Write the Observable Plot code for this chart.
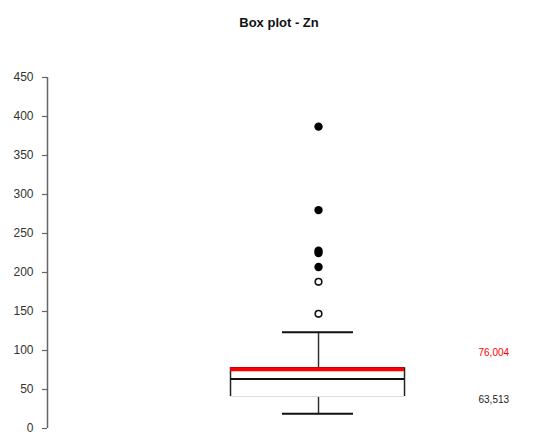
<!DOCTYPE html>
<html>
<head>
<meta charset="utf-8">
<script src="https://cdn.jsdelivr.net/npm/d3@7"></script>
<script src="https://cdn.jsdelivr.net/npm/@observablehq/plot@0.6"></script>
<style>
  html, body { margin: 0; padding: 0; background: #fff; }
  #wrap { position: relative; width: 534px; height: 437px; }
  #title { position: absolute; top: 15px; left: 279px; transform: translateX(-50%);
           font: bold 13px "Liberation Sans", Arial, sans-serif; color: #111; white-space: nowrap; }
</style>
</head>
<body>
<div id="wrap">
  <div id="title">Box plot - Zn</div>
</div>
<script>
// ---- data ----
const title = "Box plot - Zn";
const yTicks = [0, 50, 100, 150, 200, 250, 300, 350, 400, 450];
const lowerWhisker = 19;
const q1 = 41;
const median = 63.513;
const q3 = 78;
const upperWhisker = 123.5;
const mean = 76.004;
const mildOutliers = [147, 188];                 // open circles
const extremeOutliers = [207, 225, 228, 280, 387]; // filled circles

// ---- layout (fractions of plot width) ----
const cx = 0.5565, bx1 = 0.3758, bx2 = 0.7331, cap1 = 0.4825, cap2 = 0.6283, labelX = 0.885;
const fmt = v => d3.format(".3f")(v).replace(".", ",");

const chart = Plot.plot({
  width: 534,
  height: 437,
  marginLeft: 47,
  marginRight: 0,
  marginTop: 77,
  marginBottom: 9,
  style: { fontFamily: '"Liberation Sans", Arial, sans-serif', background: "#fff" },
  x: { domain: [0, 1], axis: null },
  y: { domain: [0, 450] },
  marks: [
    Plot.axisY({ ticks: yTicks, tickSize: 5, tickPadding: 9, fontSize: 12, stroke: "#666", color: "#333", strokeWidth: 1.2, label: null }),
    Plot.ruleX([0], { y1: 0, y2: 450, stroke: "#666", strokeWidth: 1.5 }),
    // whiskers
    Plot.ruleX([cx], { y1: q3, y2: upperWhisker, stroke: "#333", strokeWidth: 1.5 }),
    Plot.ruleX([cx], { y1: lowerWhisker, y2: q1, stroke: "#333", strokeWidth: 1.5 }),
    Plot.ruleY([upperWhisker, lowerWhisker], { x1: cap1, x2: cap2, stroke: "#111", strokeWidth: 2 }),
    // box
    Plot.rectY([0], { x1: bx1, x2: bx2, y1: q1, y2: q3, fill: "#fff" }),
    Plot.ruleY([q1], { x1: bx1, x2: bx2, stroke: "#ddd", strokeWidth: 1 }),
    Plot.ruleX([bx1, bx2], { y1: q1, y2: q3, stroke: "#222", strokeWidth: 1.5 }),
    Plot.ruleY([q3], { x1: bx1, x2: bx2, stroke: "#111", strokeWidth: 1.5 }),
    Plot.ruleY([median], { x1: bx1, x2: bx2, stroke: "#111", strokeWidth: 2 }),
    Plot.ruleY([mean], { x1: bx1, x2: bx2, stroke: "#f00", strokeWidth: 4 }),
    // outliers
    Plot.dot(mildOutliers, { x: () => cx, y: d => d, r: 3.3, stroke: "#111", strokeWidth: 1.6, fill: "#fff" }),
    Plot.dot(extremeOutliers, { x: () => cx, y: d => d, r: 4.2, fill: "#000", stroke: "none" }),
    // value labels
    Plot.text([mean], { x: () => labelX, y: d => d, text: d => fmt(d), dy: -16, textAnchor: "start", fill: "#f00", fontSize: 10 }),
    Plot.text([median], { x: () => labelX, y: d => d, text: d => fmt(d), dy: 21, textAnchor: "start", fill: "#222", fontSize: 10 })
  ]
});
document.getElementById("title").textContent = title;
document.getElementById("wrap").prepend(chart);
</script>
</body>
</html>
